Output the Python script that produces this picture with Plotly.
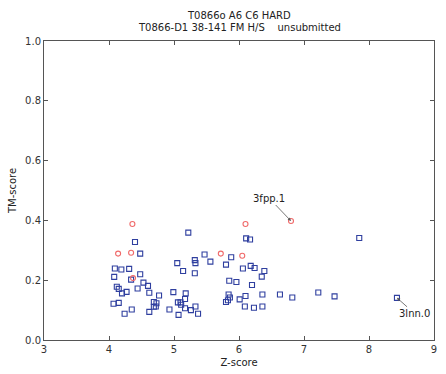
import plotly.graph_objects as go

blue_z = [4.07, 4.08, 4.09, 4.12, 4.15, 4.15, 4.19, 4.20, 4.24, 4.27, 4.31, 4.34, 4.35, 4.40,
          4.44, 4.48, 4.48, 4.53, 4.60, 4.62, 4.62, 4.69, 4.73, 4.69, 4.72, 4.77, 4.93, 4.99,
          5.05, 5.06, 5.07, 5.10, 5.11, 5.14, 5.17, 5.17, 5.18, 5.22, 5.26, 5.32, 5.33, 5.32,
          5.33, 5.37, 5.47, 5.56, 5.80, 5.80, 5.83, 5.86, 5.84, 5.85, 5.88, 5.96, 6.01, 6.06,
          6.09, 6.10, 6.11, 6.17, 6.18, 6.20, 6.23, 6.24, 6.35, 6.36, 6.36, 6.39, 6.63, 6.82,
          7.22, 7.47, 7.85, 8.43]
blue_tm = [0.121, 0.211, 0.239, 0.178, 0.171, 0.124, 0.236, 0.156, 0.088, 0.161, 0.238, 0.202,
           0.102, 0.328, 0.172, 0.220, 0.289, 0.192, 0.181, 0.158, 0.094, 0.127, 0.123, 0.111,
           0.112, 0.149, 0.102, 0.160, 0.257, 0.126, 0.084, 0.126, 0.118, 0.231, 0.137, 0.106,
           0.156, 0.359, 0.100, 0.267, 0.257, 0.223, 0.112, 0.088, 0.286, 0.262, 0.252, 0.127,
           0.133, 0.142, 0.152, 0.198, 0.277, 0.194, 0.136, 0.239, 0.112, 0.147, 0.340, 0.336,
           0.248, 0.184, 0.108, 0.241, 0.212, 0.152, 0.112, 0.231, 0.152, 0.142, 0.159, 0.146,
           0.341, 0.141]

red_z = [4.36, 4.14, 4.34, 4.37, 5.72, 6.05, 6.10, 6.80]
red_tm = [0.388, 0.289, 0.292, 0.207, 0.289, 0.282, 0.388, 0.398]

annot_labels = ["3fpp.1", "3lnn.0"]
annot_z = [6.80, 8.43]
annot_tm = [0.398, 0.141]

title_lines = ["T0866o A6 C6 HARD", "T0866-D1 38-141 FM H/S    unsubmitted"]

W, H = 446, 374
ML, MR, MT, MB = 44, 12, 41, 34

fig = go.Figure()
fig.add_trace(go.Scatter(x=blue_z, y=blue_tm, mode="markers",
                         marker=dict(symbol="square-open", size=5, color="#2f3f9f",
                                     line=dict(width=1.1, color="#2f3f9f")),
                         showlegend=False, hoverinfo="x+y"))
fig.add_trace(go.Scatter(x=red_z, y=red_tm, mode="markers",
                         marker=dict(symbol="circle-open", size=5, color="#f06a6a",
                                     line=dict(width=1.1, color="#f06a6a")),
                         showlegend=False, hoverinfo="x+y"))

offsets = [(-22, -23), (18, 16)]
for lab, zx, ty, (ax, ay) in zip(annot_labels, annot_z, annot_tm, offsets):
    fig.add_annotation(x=zx, y=ty, text=lab, showarrow=True, arrowhead=2, arrowsize=0.8,
                       arrowwidth=0.8, arrowcolor="#555555", ax=ax, ay=ay,
                       font=dict(family="DejaVu Sans", size=10, color="#222222"))

# two-line title, centred over the plot area
plot_h = H - MT - MB
for i, line in enumerate(title_lines):
    ypix = 15 + 12 * i
    fig.add_annotation(xref="paper", yref="paper", x=0.5,
                       y=1 + (MT - ypix) / plot_h, text=line, showarrow=False,
                       xanchor="center", yanchor="middle",
                       font=dict(family="DejaVu Sans", size=10, color="#222222"))

axis_common = dict(showline=True, linecolor="#555555", linewidth=1, mirror="ticks",
                   ticks="inside", ticklen=4, tickcolor="#555555", showgrid=False,
                   zeroline=False, automargin=False,
                   tickfont=dict(family="DejaVu Sans", size=10, color="#333333"))

fig.update_layout(
    width=W, height=H,
    margin=dict(l=ML, r=MR, t=MT, b=MB),
    plot_bgcolor="white", paper_bgcolor="white",
    xaxis=dict(range=[3, 9], dtick=1, tick0=3,
               title=dict(text="Z-score", standoff=4,
                          font=dict(family="DejaVu Sans", size=10, color="#222222")),
               **axis_common),
    yaxis=dict(range=[0, 1], dtick=0.2, tick0=0, tickformat=".1f",
               title=dict(text="TM-score", standoff=6,
                          font=dict(family="DejaVu Sans", size=10, color="#222222")),
               **axis_common),
)

fig.write_html("out.html")
